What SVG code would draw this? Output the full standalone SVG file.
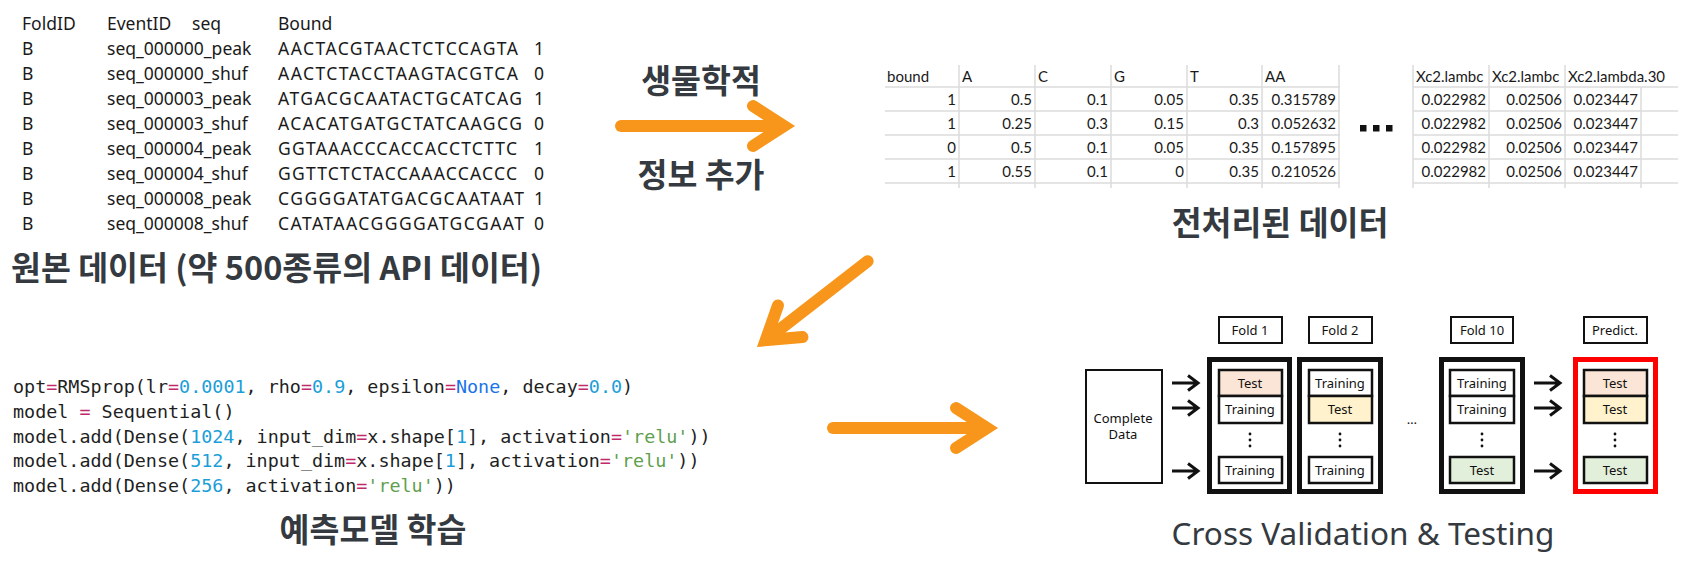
<svg xmlns="http://www.w3.org/2000/svg" width="1692" height="577" viewBox="0 0 1692 577">
<style>
.raw{font-family:"Noto Sans","Open Sans",sans-serif;font-size:17.5px;fill:#1a1a1a}
.title{font-family:"Noto Sans CJK KR","Noto Sans",sans-serif;font-size:32.5px;font-weight:700;fill:#343a40}
.xl{font-family:Lato,"Liberation Sans",sans-serif;font-size:15px;fill:#1a1a1a}
.grid{stroke:#dcdcdc;stroke-width:1.5;fill:none}
.code{font-family:"DejaVu Sans Mono","Liberation Mono",monospace;font-size:18.4px;fill:#1f1f1f}
.eq{fill:#c02a6a}.num{fill:#1b9ed8}.kw{fill:#1a73e8}.str{fill:#5fa04e}
.oshaft{stroke:#f7961a;stroke-width:12;stroke-linecap:round;fill:none}
.ohead{stroke:#f7961a;stroke-width:12;stroke-linecap:round;stroke-linejoin:miter;fill:none}
.lbl{fill:#fff;stroke:#111;stroke-width:2}
.fold{fill:none;stroke:#111;stroke-width:5}
.pred{fill:none;stroke:#ff0000;stroke-width:5}
.cell{stroke:#111;stroke-width:2.5}
.cv{font-family:"Noto Sans","Open Sans",sans-serif;font-size:13px;fill:#111;text-anchor:middle}
.barr{stroke:#111;stroke-width:3;fill:none;stroke-linejoin:miter}
.cvt{font-family:"Noto Sans","Open Sans",sans-serif;font-size:31.5px;fill:#343a40;text-anchor:middle}
</style>
<defs>
<g id="oarrow-head"><path class="ohead" d="M-42,-20 L-11,0 L-42,20"/></g>
<g id="vdots"><circle cx="0" cy="-6" r="1.4" fill="#111"/><circle cx="0" cy="0" r="1.4" fill="#111"/><circle cx="0" cy="6" r="1.4" fill="#111"/></g>
<path id="barrow" class="barr" d="M0,0 H26 M16,-7.5 L26,0 L16,7.5"/>
</defs>

<g id="raw-data">
<text class="raw" x="22" y="30">FoldID</text><text class="raw" x="107" y="30">EventID</text><text class="raw" x="192" y="30">seq</text><text class="raw" x="278" y="30">Bound</text>
<text class="raw" x="22" y="55">B</text><text class="raw" x="107" y="55">seq_000000_peak</text><text class="raw" x="278" y="55" textLength="240" lengthAdjust="spacing">AACTACGTAACTCTCCAGTA</text><text class="raw" x="534" y="55">1</text>
<text class="raw" x="22" y="80">B</text><text class="raw" x="107" y="80">seq_000000_shuf</text><text class="raw" x="278" y="80" textLength="240" lengthAdjust="spacing">AACTCTACCTAAGTACGTCA</text><text class="raw" x="534" y="80">0</text>
<text class="raw" x="22" y="105">B</text><text class="raw" x="107" y="105">seq_000003_peak</text><text class="raw" x="278" y="105" textLength="244" lengthAdjust="spacing">ATGACGCAATACTGCATCAG</text><text class="raw" x="534" y="105">1</text>
<text class="raw" x="22" y="130">B</text><text class="raw" x="107" y="130">seq_000003_shuf</text><text class="raw" x="278" y="130" textLength="244" lengthAdjust="spacing">ACACATGATGCTATCAAGCG</text><text class="raw" x="534" y="130">0</text>
<text class="raw" x="22" y="155">B</text><text class="raw" x="107" y="155">seq_000004_peak</text><text class="raw" x="278" y="155" textLength="239" lengthAdjust="spacing">GGTAAACCCACCACCTCTTC</text><text class="raw" x="534" y="155">1</text>
<text class="raw" x="22" y="180">B</text><text class="raw" x="107" y="180">seq_000004_shuf</text><text class="raw" x="278" y="180" textLength="239" lengthAdjust="spacing">GGTTCTCTACCAAACCACCC</text><text class="raw" x="534" y="180">0</text>
<text class="raw" x="22" y="205">B</text><text class="raw" x="107" y="205">seq_000008_peak</text><text class="raw" x="278" y="205" textLength="246" lengthAdjust="spacing">CGGGGATATGACGCAATAAT</text><text class="raw" x="534" y="205">1</text>
<text class="raw" x="22" y="230">B</text><text class="raw" x="107" y="230">seq_000008_shuf</text><text class="raw" x="278" y="230" textLength="246" lengthAdjust="spacing">CATATAACGGGGATGCGAAT</text><text class="raw" x="534" y="230">0</text>
<text class="title" x="11" y="280">원본 데이터 (약 500종류의 API 데이터)</text>
</g>

<g id="bio-label">
<text class="title" x="701" y="93" text-anchor="middle">생물학적</text>
<text class="title" x="701" y="187" text-anchor="middle">정보 추가</text>
</g>

<g id="preprocessed-data">
<path class="grid" d="M885,87 H1340 M885,111 H1340 M885,135 H1340 M885,159 H1340 M885,183 H1340 M959,65 V188 M1035,65 V188 M1111,65 V188 M1187,65 V188 M1262,65 V188 M1339,65 V188"/>
<g class="xl">
<text x="887" y="82">bound</text><text x="962" y="82">A</text><text x="1038" y="82">C</text><text x="1114" y="82">G</text><text x="1190" y="82">T</text><text x="1265" y="82">AA</text>
</g>
<g class="xl" text-anchor="end">
<text x="956" y="105">1</text><text x="1032" y="105">0.5</text><text x="1108" y="105">0.1</text><text x="1184" y="105">0.05</text><text x="1259" y="105">0.35</text><text x="1336" y="105">0.315789</text>
<text x="956" y="129">1</text><text x="1032" y="129">0.25</text><text x="1108" y="129">0.3</text><text x="1184" y="129">0.15</text><text x="1259" y="129">0.3</text><text x="1336" y="129">0.052632</text>
<text x="956" y="153">0</text><text x="1032" y="153">0.5</text><text x="1108" y="153">0.1</text><text x="1184" y="153">0.05</text><text x="1259" y="153">0.35</text><text x="1336" y="153">0.157895</text>
<text x="956" y="177">1</text><text x="1032" y="177">0.55</text><text x="1108" y="177">0.1</text><text x="1184" y="177">0</text><text x="1259" y="177">0.35</text><text x="1336" y="177">0.210526</text>
</g>
<rect x="1360" y="125" width="6.5" height="6.5" fill="#111"/><rect x="1373" y="125" width="6.5" height="6.5" fill="#111"/><rect x="1386" y="125" width="6.5" height="6.5" fill="#111"/>
<path class="grid" d="M1413,87 H1678 M1413,111 H1678 M1413,135 H1678 M1413,159 H1678 M1413,183 H1678 M1413,65 V188 M1489,65 V188 M1565,65 V188 M1641,87 V188"/>
<g class="xl">
<text x="1416" y="82">Xc2.lambc</text><text x="1492" y="82">Xc2.lambc</text><text x="1568" y="82">Xc2.lambda.30</text>
</g>
<g class="xl" text-anchor="end">
<text x="1486" y="105">0.022982</text><text x="1562" y="105">0.02506</text><text x="1638" y="105">0.023447</text>
<text x="1486" y="129">0.022982</text><text x="1562" y="129">0.02506</text><text x="1638" y="129">0.023447</text>
<text x="1486" y="153">0.022982</text><text x="1562" y="153">0.02506</text><text x="1638" y="153">0.023447</text>
<text x="1486" y="177">0.022982</text><text x="1562" y="177">0.02506</text><text x="1638" y="177">0.023447</text>
</g>
<text class="title" x="1280" y="235" text-anchor="middle">전처리된 데이터</text>
</g>

<g id="model-training">
<text class="code" x="13" y="393">opt<tspan class="eq">=</tspan>RMSprop(lr<tspan class="eq">=</tspan><tspan class="num">0.0001</tspan>, rho<tspan class="eq">=</tspan><tspan class="num">0.9</tspan>, epsilon<tspan class="eq">=</tspan><tspan class="kw">None</tspan>, decay<tspan class="eq">=</tspan><tspan class="num">0.0</tspan>)</text>
<text class="code" x="13" y="418">model <tspan class="eq">=</tspan> Sequential()</text>
<text class="code" x="13" y="443">model.add(Dense(<tspan class="num">1024</tspan>, input_dim<tspan class="eq">=</tspan>x.shape[<tspan class="num">1</tspan>], activation<tspan class="eq">=</tspan><tspan class="str">'relu'</tspan>))</text>
<text class="code" x="13" y="467">model.add(Dense(<tspan class="num">512</tspan>, input_dim<tspan class="eq">=</tspan>x.shape[<tspan class="num">1</tspan>], activation<tspan class="eq">=</tspan><tspan class="str">'relu'</tspan>))</text>
<text class="code" x="13" y="492">model.add(Dense(<tspan class="num">256</tspan>, activation<tspan class="eq">=</tspan><tspan class="str">'relu'</tspan>))</text>
<text class="title" x="373" y="542" text-anchor="middle">예측모델 학습</text>
</g>

<g id="cross-validation">
<rect class="lbl" x="1086" y="370" width="76" height="113"/>
<text class="cv" x="1123" y="423">Complete</text><text class="cv" x="1123" y="439">Data</text>

<rect class="lbl" x="1219" y="317" width="63" height="26"/><text class="cv" x="1250" y="335">Fold 1</text>
<rect class="lbl" x="1309" y="317" width="63" height="26"/><text class="cv" x="1340" y="335">Fold 2</text>
<rect class="lbl" x="1451" y="317" width="62" height="26"/><text class="cv" x="1482" y="335">Fold 10</text>
<rect class="lbl" x="1584" y="317" width="63" height="26"/><text class="cv" x="1615" y="335">Predict.</text>

<rect class="fold" x="1209.5" y="359.5" width="80" height="132"/>
<rect class="cell" x="1219" y="370" width="63" height="26" fill="#fbe5d6"/><text class="cv" x="1250" y="388">Test</text>
<rect class="cell" x="1219" y="396" width="63" height="27" fill="#fff"/><text class="cv" x="1250" y="414">Training</text>
<use href="#vdots" x="1250" y="440"/>
<rect class="cell" x="1219" y="457" width="63" height="26" fill="#fff"/><text class="cv" x="1250" y="475">Training</text>

<rect class="fold" x="1299.5" y="359.5" width="81" height="132"/>
<rect class="cell" x="1309" y="370" width="63" height="26" fill="#fff"/><text class="cv" x="1340" y="388">Training</text>
<rect class="cell" x="1309" y="396" width="63" height="27" fill="#fff2cc"/><text class="cv" x="1340" y="414">Test</text>
<use href="#vdots" x="1340" y="440"/>
<rect class="cell" x="1309" y="457" width="63" height="26" fill="#fff"/><text class="cv" x="1340" y="475">Training</text>

<text class="cv" x="1412" y="424">…</text>

<rect class="fold" x="1441.5" y="359.5" width="81" height="132"/>
<rect class="cell" x="1450" y="370" width="64" height="26" fill="#fff"/><text class="cv" x="1482" y="388">Training</text>
<rect class="cell" x="1450" y="396" width="64" height="27" fill="#fff"/><text class="cv" x="1482" y="414">Training</text>
<use href="#vdots" x="1482" y="440"/>
<rect class="cell" x="1450" y="457" width="64" height="26" fill="#e2efda"/><text class="cv" x="1482" y="475">Test</text>

<rect class="pred" x="1575.5" y="359.5" width="80" height="132"/>
<rect class="cell" x="1584" y="370" width="63" height="26" fill="#fbe5d6"/><text class="cv" x="1615" y="388">Test</text>
<rect class="cell" x="1584" y="396" width="63" height="27" fill="#fff2cc"/><text class="cv" x="1615" y="414">Test</text>
<use href="#vdots" x="1615" y="440"/>
<rect class="cell" x="1584" y="457" width="63" height="26" fill="#e2efda"/><text class="cv" x="1615" y="475">Test</text>

<text class="cvt" x="1363" y="545">Cross Validation &amp; Testing</text>
</g>

<g id="connectors">
<g transform="translate(795,126)"><path class="oshaft" d="M-174,0 H-12"/><use href="#oarrow-head"/></g>
<g transform="translate(757,347) rotate(142.2)"><path class="oshaft" d="M-140,0 H-12"/><use href="#oarrow-head"/></g>
<g transform="translate(998,428)"><path class="oshaft" d="M-165,0 H-12"/><use href="#oarrow-head"/></g>
<use href="#barrow" x="1172" y="383"/><use href="#barrow" x="1172" y="408"/><use href="#barrow" x="1172" y="471"/>
<use href="#barrow" x="1534" y="383"/><use href="#barrow" x="1534" y="408"/><use href="#barrow" x="1534" y="471"/>
</g>
</svg>
